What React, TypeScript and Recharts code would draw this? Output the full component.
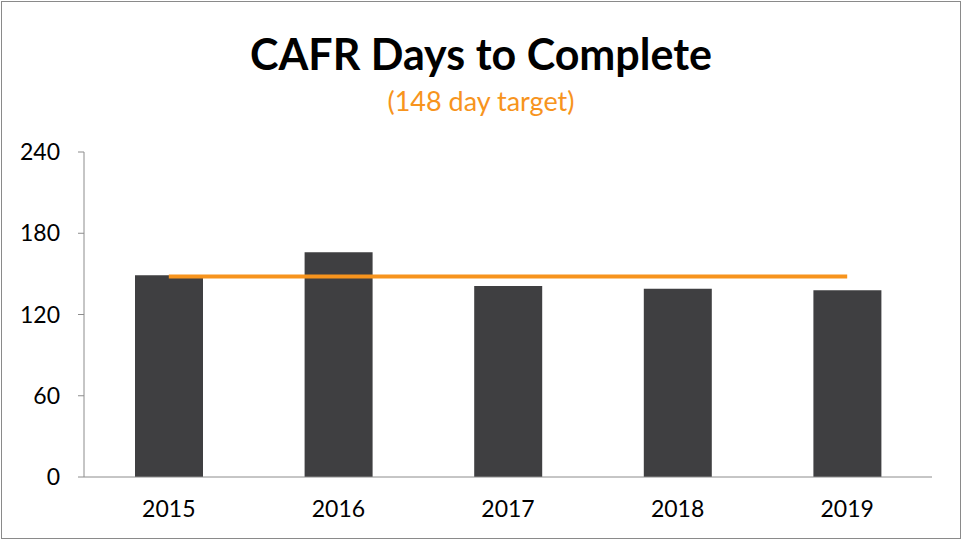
import { ComposedChart, Bar, Line, XAxis, YAxis } from "recharts";

const years = ["2015", "2016", "2017", "2018", "2019"];
const daysToComplete = [149, 166, 141, 139, 138];
const targetDays = [148, 148, 148, 148, 148];
const yTicks = [0, 60, 120, 180, 240];

const data = years.map((year, i) => ({
  year,
  days: daysToComplete[i],
  target: targetDays[i],
}));

const font = "Lato, 'Open Sans', sans-serif";
const axisGray = "#8c8c8c";

export default function App() {
  return (
    <div
      style={{
        position: "absolute",
        left: 0,
        top: 0,
        width: 962,
        height: 540,
        background: "#fff",
        fontFamily: font,
      }}
    >
      <div
        style={{
          position: "absolute",
          left: 1,
          top: 1,
          width: 958,
          height: 536,
          border: "1px solid #8a8a8a",
        }}
      />
      <div
        style={{
          position: "absolute",
          top: 28,
          width: 962,
          textAlign: "center",
          fontSize: 43,
          fontWeight: 700,
          color: "#000",
          lineHeight: "52px",
        }}
      >
        CAFR Days to Complete
      </div>
      <div
        style={{
          position: "absolute",
          top: 86,
          width: 962,
          textAlign: "center",
          fontSize: 27,
          color: "#f7941d",
          lineHeight: "30px",
        }}
      >
        (148 day target)
      </div>
      <ComposedChart
        width={962}
        height={540}
        data={data}
        margin={{ top: 152, right: 30, bottom: 23, left: 0 }}
        style={{ position: "absolute", left: 0, top: 0 }}
      >
        <XAxis
          dataKey="year"
          tickLine={false}
          tickSize={0}
          tickMargin={24}
          height={40}
          stroke={axisGray}
          tick={{ fill: "#000", fontSize: 23, fontFamily: font }}
        />
        <YAxis
          domain={[0, 240]}
          ticks={yTicks}
          width={84}
          tickSize={6}
          tickMargin={18}
          stroke={axisGray}
          tick={{ fill: "#000", fontSize: 23, fontFamily: font }}
        />
        <Bar dataKey="days" fill="#3f3f41" barSize={68} isAnimationActive={false} />
        <Line
          dataKey="target"
          stroke="#f7941d"
          strokeWidth={4}
          dot={false}
          isAnimationActive={false}
        />
      </ComposedChart>
    </div>
  );
}
